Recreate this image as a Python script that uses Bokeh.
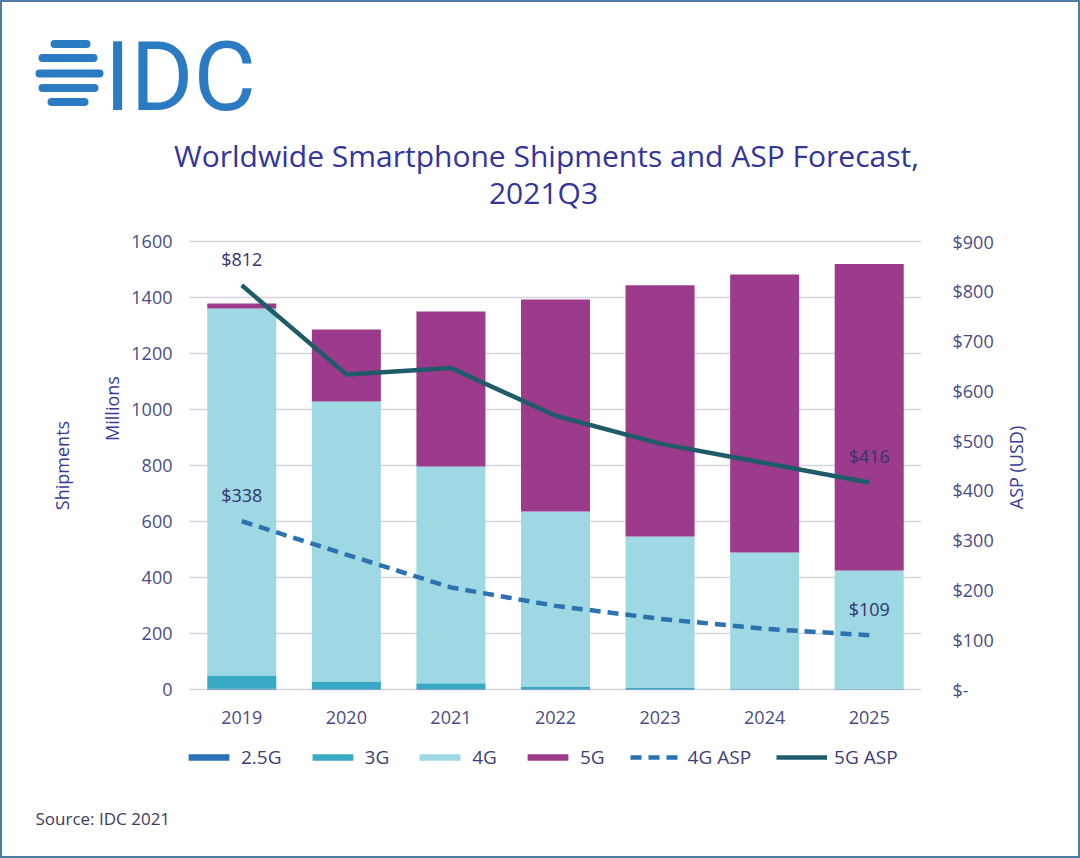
import math
from bokeh.plotting import figure
from bokeh.models import (ColumnDataSource, Range1d, LinearAxis, FixedTicker,
                          CustomJSTickFormatter, Label, Legend, LegendItem, Arrow)
from bokeh.core.properties import value
from bokeh.embed import file_html
from bokeh.resources import INLINE

# ---------------- data ----------------
years = ["2019", "2020", "2021", "2022", "2023", "2024", "2025"]
ship_25g = [3, 2, 2, 2, 2, 1, 1]
ship_3g = [47, 27, 20, 9, 3, 3, 2]
ship_4g = [1311, 1000, 774, 625, 541, 485, 422]
ship_5g = [18, 257, 554, 757, 898, 993, 1095]
asp_4g = [338, 271, 205, 168, 142, 122, 109]
asp_5g = [812, 633, 646, 550, 494, 455, 416]
left_ticks = [0, 200, 400, 600, 800, 1000, 1200, 1400, 1600]
right_ticks = [0, 100, 200, 300, 400, 500, 600, 700, 800, 900]
series = ["2.5G", "3G", "4G", "5G"]
colors = ["#2a72b5", "#38a9c4", "#9dd8e3", "#9c3b8b"]
c_asp4 = "#2d72b0"
c_asp5 = "#1f5c6a"
title_lines = ["Worldwide Smartphone Shipments and ASP Forecast,", "2021Q3"]

FONT = "Open Sans"
TXT = "#3d3d78"
TICK = "#4a4c86"
AXT = "#3a3a9a"
LOGO = "#2b7bc3"

# ---------------- layout geometry (pixels) ----------------
CW, CH = 1080, 858           # canvas
FL, FR, FT, FB = 189, 921, 241, 689   # plotting area inside the canvas
n = len(years)
ux = n / (FR - FL)
ky = left_ticks[-1] / (FB - FT)
ka = right_ticks[-1] / (FB - FT)
x_rng = Range1d(-0.5 - FL * ux, n - 0.5 + (CW - FR) * ux)
y_rng = Range1d(-(CH - FB) * ky, left_ticks[-1] + FT * ky)
a_rng = Range1d(-(CH - FB) * ka, right_ticks[-1] + FT * ka)

idx = list(range(n))
src = ColumnDataSource(dict(x=idx, g25=ship_25g, g3=ship_3g, g4=ship_4g, g5=ship_5g,
                            a4=asp_4g, a5=asp_5g))

p = figure(x_range=x_rng, y_range=y_rng, width=CW, height=CH,
           output_backend="svg", toolbar_location=None,
           x_axis_location=None, y_axis_location=None,
           min_border=0, min_border_left=0, min_border_right=0,
           min_border_top=0, min_border_bottom=0)
p.grid.visible = False
p.background_fill_color = "white"
p.border_fill_color = "white"
p.outline_line_color = "#4f7ca3"
p.outline_line_width = 3
p.extra_y_ranges = {"asp": a_rng}

# left axis (its long inner ticks act as the horizontal grid lines)
yax = LinearAxis(ticker=FixedTicker(ticks=left_ticks), fixed_location=-0.5)
yax.level = "underlay"
yax.axis_line_color = None
yax.major_tick_in = FR - FL
yax.major_tick_out = 0
yax.major_tick_line_color = "#d4d4de"
yax.major_tick_line_width = 1.4
yax.minor_tick_line_color = None
yax.major_label_standoff = 17
p.add_layout(yax, "left")

xax = LinearAxis(ticker=FixedTicker(ticks=idx), fixed_location=0,
                 major_label_overrides={i: y for i, y in zip(idx, years)})
xax.axis_line_color = None
xax.major_tick_line_color = None
xax.minor_tick_line_color = None
xax.major_label_standoff = 15
p.add_layout(xax, "below")

rax = LinearAxis(y_range_name="asp", ticker=FixedTicker(ticks=right_ticks),
                 fixed_location=n - 0.5,
                 formatter=CustomJSTickFormatter(code="return tick == 0 ? '$-' : '$' + tick;"))
rax.axis_line_color = None
rax.major_tick_line_color = None
rax.minor_tick_line_color = None
rax.major_label_standoff = 25
p.add_layout(rax, "right")

for ax in (xax, yax, rax):
    ax.major_label_text_font = FONT
    ax.major_label_text_font_size = "18px"
    ax.major_label_text_color = TICK

bars = p.vbar_stack(["g25", "g3", "g4", "g5"], x="x", width=0.66, source=src,
                    color=colors, line_color=None)
l4 = p.line("x", "a4", source=src, y_range_name="asp", line_color=c_asp4,
            line_width=4.5, line_dash="11 7")
l5 = p.line("x", "a5", source=src, y_range_name="asp", line_color=c_asp5,
            line_width=4.5)

lab_src = ColumnDataSource(dict(
    x=[idx[0], idx[-1], idx[0], idx[-1]],
    y=[asp_5g[0], asp_5g[-1], asp_4g[0], asp_4g[-1]],
    t=["$%d" % asp_5g[0], "$%d" % asp_5g[-1], "$%d" % asp_4g[0], "$%d" % asp_4g[-1]],
))
p.text(x="x", y="y", text="t", source=lab_src, y_range_name="asp",
       text_font=value(FONT), text_font_size="18px", text_color="#34346e",
       text_align="center", text_baseline="middle", y_offset=-26)

# legend
items = [LegendItem(label=s, renderers=[r]) for s, r in zip(series, bars)]
items += [LegendItem(label="4G ASP", renderers=[l4]), LegendItem(label="5G ASP", renderers=[l5])]
leg = Legend(items=items, orientation="horizontal", location=(183, CH - 770),
             glyph_width=51, glyph_height=8, label_standoff=7, spacing=25,
             padding=0, margin=0, border_line_color=None, background_fill_alpha=0,
             label_text_font=FONT, label_text_font_size="19px", label_text_color=TXT)
p.add_layout(leg, "center")

# texts (screen pixels measured from the canvas bottom-left)
def lab(text, x, y, size, color, align="center", baseline="middle", angle=0.0, font=FONT):
    p.add_layout(Label(x=x, y=CH - y, x_units="screen", y_units="screen", text=text,
                       text_font=font, text_font_size=size, text_color=color,
                       text_align=align, text_baseline=baseline, angle=angle))

lab(title_lines[0], 546, 155, "30px", "#34349b", baseline="alphabetic")
lab(title_lines[1], 543, 192, "30px", "#34349b", baseline="alphabetic")
lab("Millions", 111, 408, "18px", AXT, angle=math.pi / 2)
lab("Shipments", 61, 465, "18px", AXT, angle=math.pi / 2)
lab("ASP (USD)", 1015, 467, "18px", AXT, angle=math.pi / 2)
lab("Source: IDC 2021", 35, 818, "17px", "#3c3c5c", align="left")

# logo
lab("IDC", 104, 76, "96px", LOGO, align="left", baseline="alphabetic", font="Roboto")
stripes = [(43.5, 54, 86), (57.5, 42, 93), (73, 39, 99), (87.5, 42, 94), (101.5, 51, 84)]
for yy, x0, x1 in stripes:
    p.add_layout(Arrow(end=None, x_start=x0, y_start=CH - yy, x_end=x1, y_end=CH - yy,
                       start_units="screen", end_units="screen",
                       line_color=LOGO, line_width=8, line_cap="round"))

open("out.html", "w").write(file_html(p, INLINE))
